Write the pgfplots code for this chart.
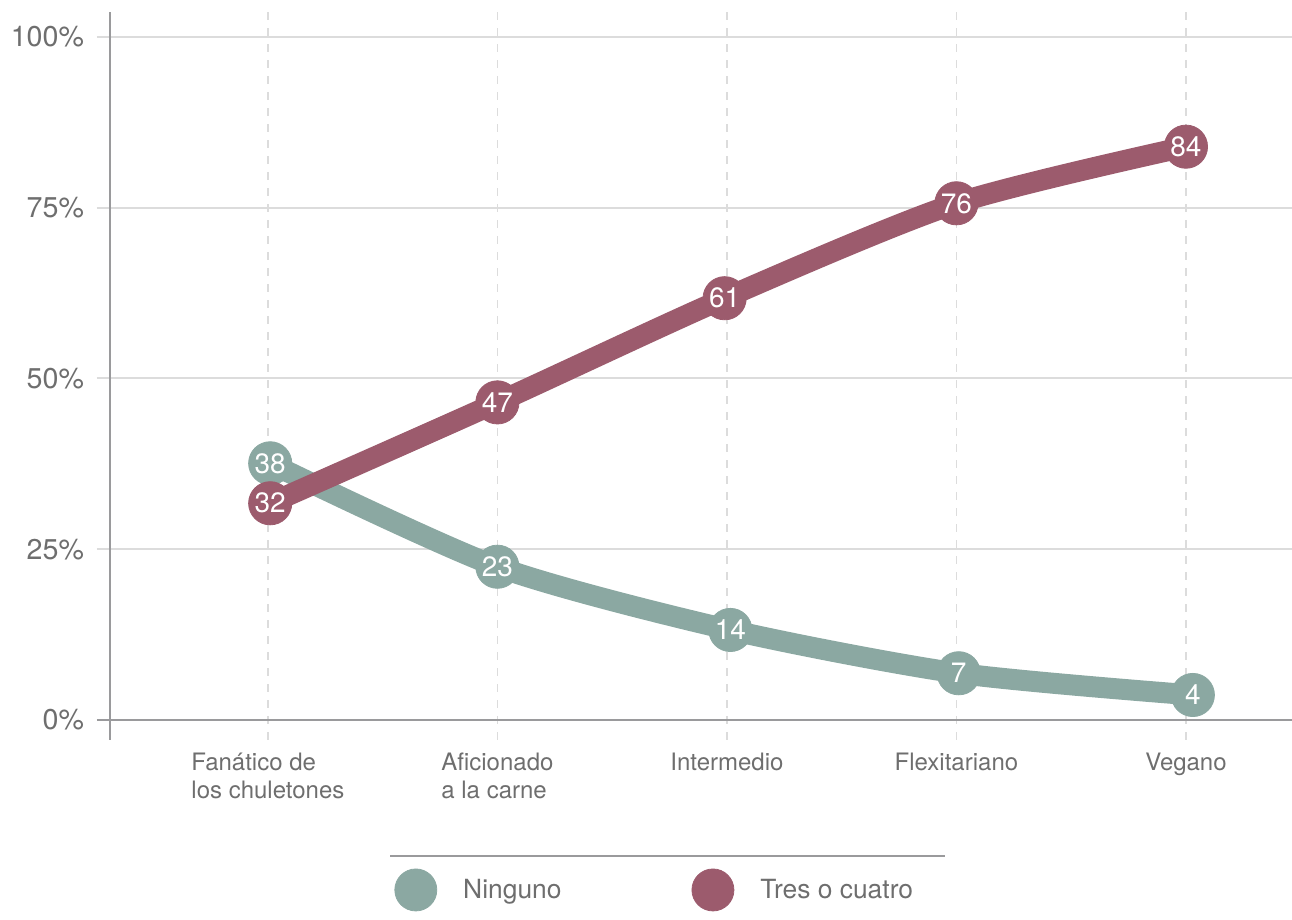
\documentclass[border=0pt]{standalone}
\usepackage{fontspec}
\setmainfont{TeX Gyre Heros}
\usepackage{pgfplots}
\pgfplotsset{compat=1.18}
\usepackage{pgfplotstable}
\definecolor{greenc}{HTML}{8BA8A2}
\definecolor{redc}{HTML}{9C5B6D}
\definecolor{gridc}{HTML}{DCDCDC}
\definecolor{axisc}{HTML}{9A9A9C}
\definecolor{textc}{HTML}{6E6E6E}

\pgfplotstableread{
x y label
0.01 37.58 38
1.00 22.44 23
2.015 13.18 14
3.01 6.84 7
4.03 3.66 4
}\ninguno
\pgfplotstableread{
x y label
0.01 31.73 32
1.00 46.50 47
1.99 61.75 61
3.00 75.65 76
4.00 83.94 84
}\tres

\begin{document}
\begin{tikzpicture}
\begin{axis}[
  name=ax,
  at={(0,0)}, anchor=south west,
  scale only axis,
  width=591pt, height=364pt,
  xmin=-0.688, xmax=4.462,
  ymin=-2.93, ymax=103.66,
  axis line style={draw=none},
  xtick={0,1,2,3,4},
  xticklabels={{Fanático de\\los chuletones},{Aficionado\\a la carne},{Intermedio},{Flexitariano},{Vegano}},
  ytick={0,25,50,75,100},
  yticklabels={0\%,25\%,50\%,75\%,100\%},
  xtick pos=bottom, ytick pos=left,
  tick align=outside,
  major tick length=6.5pt,
  xtick style={draw=none},
  ytick style={draw=gridc, line width=1pt},
  xticklabel style={align=left, anchor=north, font=\fontsize{12}{14}\selectfont, text=textc, yshift=3.5pt},
  yticklabel style={font=\fontsize{14.3}{16}\selectfont, text=textc, xshift=-3pt},
  ymajorgrids, xmajorgrids,
  y grid style={gridc, line width=1pt},
  x grid style={gridc, line width=0.75pt, dash pattern=on 4pt off 4pt},
  clip=false,
  legend columns=2,
  legend style={
    at={(axis description cs:0.2403,-0.2060)}, anchor=west,
    draw=none, inner sep=0pt, fill=none,
    font=\fontsize{13.2}{15}\selectfont, text=textc,
    nodes={inner sep=0pt},
    /tikz/every odd column/.append style={column sep=13pt},
    /tikz/every even column/.append style={column sep=65pt},
  },
  legend image code/.code={\path[fill, draw, line width=0.4pt] (0pt,0pt) circle (10.5pt);},
  every node near coord/.append style={anchor=center, text=white, font=\fontsize{14}{16}\selectfont},
]
\draw[axisc, line width=1.2pt] ([xshift=-6.5pt]axis cs:-0.688,0) -- (axis cs:4.462,0);
\draw[axisc, line width=1pt] (rel axis cs:0,0) -- (rel axis cs:0,1);
\addplot[color=greenc, line width=10.5pt, smooth, tension=0.45, no marks, forget plot]
  table[x=x, y=y] \ninguno;
\addplot[color=redc, line width=10.5pt, smooth, tension=0.45, no marks, forget plot]
  table[x=x, y=y] \tres;
\addplot[color=greenc, only marks, mark=*, mark size=10.8pt, line width=0.4pt,
  point meta=explicit symbolic, nodes near coords]
  table[x=x, y=y, meta=label] \ninguno;
\addlegendentry{Ninguno}
\addplot[color=redc, only marks, mark=*, mark size=10.8pt, line width=0.4pt,
  point meta=explicit symbolic, nodes near coords]
  table[x=x, y=y, meta=label] \tres;
\addlegendentry{Tres o cuatro}
\end{axis}
\draw[axisc, line width=0.6pt] ([xshift=140pt,yshift=-58pt]ax.south west) -- ++(277.5pt,0);
\pgfresetboundingbox
\path (-55pt,-90pt) rectangle (591pt,370pt);
\end{tikzpicture}
\end{document}
